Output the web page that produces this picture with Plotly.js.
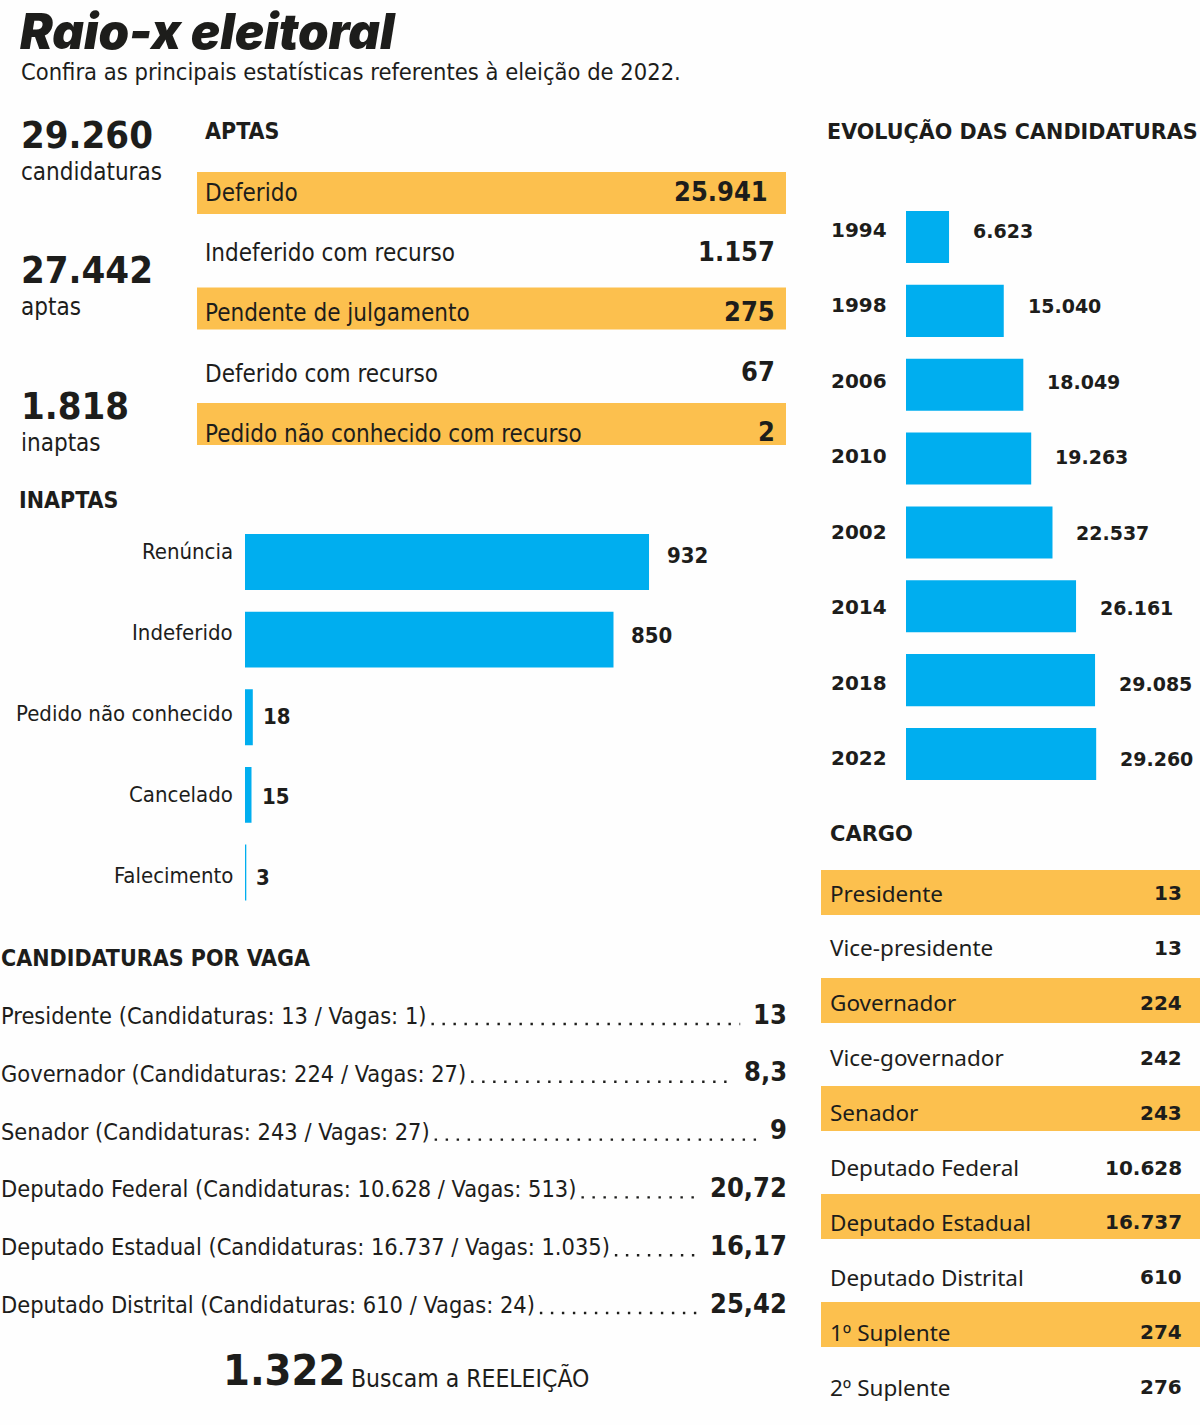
<!DOCTYPE html>
<html><head><meta charset="utf-8"><script src="https://cdn.plot.ly/plotly-3.0.1.min.js"></script>
<style>body{margin:0;background:#fefefe}</style></head>
<body>
<div id="g" style="width:1200px;height:1425px"></div>
<script>
// ---------- DATA ----------
const totalCandidaturas = 29260;
const totalAptas = 27442;
const totalInaptas = 1818;
const resumoLabels = ['candidaturas', 'aptas', 'inaptas'];
const resumoValores = [totalCandidaturas, totalAptas, totalInaptas];

const aptasLabels = ['Deferido', 'Indeferido com recurso', 'Pendente de julgamento', 'Deferido com recurso', 'Pedido não conhecido com recurso'];
const aptasValores = [25941, 1157, 275, 67, 2];

const inaptasLabels = ['Renúncia', 'Indeferido', 'Pedido não conhecido', 'Cancelado', 'Falecimento'];
const inaptasValores = [932, 850, 18, 15, 3];

const evolucaoAnos = ['1994', '1998', '2006', '2010', '2002', '2014', '2018', '2022'];
const evolucaoValores = [6623, 15040, 18049, 19263, 22537, 26161, 29085, 29260];

const cargoLabels = ['Presidente', 'Vice-presidente', 'Governador', 'Vice-governador', 'Senador', 'Deputado Federal', 'Deputado Estadual', 'Deputado Distrital', '1º Suplente', '2º Suplente'];
const cargoValores = [13, 13, 224, 242, 243, 10628, 16737, 610, 274, 276];

const vagaCargos = ['Presidente', 'Governador', 'Senador', 'Deputado Federal', 'Deputado Estadual', 'Deputado Distrital'];
const vagaCandidaturas = [13, 224, 243, 10628, 16737, 610];
const vagaVagas = [1, 27, 27, 513, 1035, 24];
const vagaRazao = ['13', '8,3', '9', '20,72', '16,17', '25,42'];

const reeleicao = 1322;

// ---------- STYLE ----------
const W = 1200, H = 1425;
const px = x => x / W, py = y => 1 - y / H;
const COND = 'DejaVu Sans Condensed, DejaVu Sans, sans-serif';
const WIDE = 'DejaVu Sans, sans-serif';
const NOTO = 'Noto Sans, DejaVu Sans, sans-serif';
const INK = '#1d1d1b';
const BLUE = '#00aeef';
const YELLOW = '#fcc04e';
const fmt = n => String(n).replace(/\B(?=(\d{3})+(?!\d))/g, '.');

const ann = [];
const shapes = [];
function T(x, y, text, size, o = {}) {
  ann.push({
    xref: 'paper', yref: 'paper', x: px(x), y: py(y), text: text, showarrow: false,
    xanchor: o.anchor || 'left', yanchor: 'middle', borderpad: 0,
    font: { family: o.family || COND, size: size, color: INK, weight: o.weight || 'normal', style: o.style || 'normal' }
  });
}
const cv = document.createElement('canvas').getContext('2d');
function measure(text, size, weight, family) {
  cv.font = `${weight} ${size}px ${family}`;
  return cv.measureText(text).width;
}

// Title
T(19, 31, 'Raio-x eleitoral', 49, { family: 'Inter, sans-serif', weight: 900, style: 'italic' });
T(20, 72, 'Confira as principais estatísticas referentes à eleição de 2022.', 23.5);

// Resumo
const resumoY = [135, 270, 406];
resumoValores.forEach((v, i) => {
  T(20, resumoY[i], fmt(v), 38, { weight: 'bold' });
  T(20, resumoY[i] + 37, resumoLabels[i], 24);
});

// APTAS table
T(204, 131, 'APTAS', 23, { weight: 'bold' });
aptasLabels.forEach((l, i) => {
  const yc = 193 + i * 60.25;
  if (i % 2 === 0) {
    const top = 172 + i * 57.75;
    shapes.push({ type: 'rect', xref: 'paper', yref: 'paper', x0: px(197), x1: px(786), y0: py(top), y1: py(top + 42), fillcolor: YELLOW, line: { width: 0 }, layer: 'below' });
  }
  T(204, yc, l, 24);
  T(i === 0 ? 769 : 776, yc - 2, fmt(aptasValores[i]), 27, { anchor: 'right', weight: 'bold' });
});

// INAPTAS
T(18, 500, 'INAPTAS', 23, { weight: 'bold' });
inaptasLabels.forEach((l, i) => {
  ann.push({ xref: 'paper', yref: 'y', x: px(235), y: i, yshift: 11 - 3.4 * i, text: l, showarrow: false, xanchor: 'right', yanchor: 'middle', font: { family: COND, size: 22, color: INK } });
  const v = inaptasValores[i];
  ann.push({ xref: 'x', yref: 'y', x: v, y: i, xshift: v > 100 ? 16 : 8, yshift: 7 - 2.9 * i, text: fmt(v), showarrow: false, xanchor: 'left', yanchor: 'middle', font: { family: COND, size: 22, color: INK, weight: 'bold' } });
});

// EVOLUÇÃO
T(826, 131, 'EVOLUÇÃO DAS CANDIDATURAS', 20.7, { family: WIDE, weight: 'bold' });
evolucaoAnos.forEach((a, i) => {
  const ys = 7 - 1.57 * i;
  ann.push({ xref: 'paper', yref: 'y2', x: px(829), y: i, yshift: ys, text: a, showarrow: false, xanchor: 'left', yanchor: 'middle', font: { family: WIDE, size: 20, color: INK, weight: 'bold' } });
  ann.push({ xref: 'x2', yref: 'y2', x: evolucaoValores[i], y: i, xshift: 22, yshift: ys - 1, text: fmt(evolucaoValores[i]), showarrow: false, xanchor: 'left', yanchor: 'middle', font: { family: WIDE, size: 19, color: INK, weight: 'bold' } });
});

// CARGO
T(829, 834, 'CARGO', 21, { family: WIDE, weight: 'bold' });
cargoLabels.forEach((l, i) => {
  const yc = 893 + i * 54.9;
  if (i % 2 === 0) {
    const top = 870 + i * 54;
    shapes.push({ type: 'rect', xref: 'paper', yref: 'paper', x0: px(821), x1: px(1200), y0: py(top), y1: py(top + 45), fillcolor: YELLOW, line: { width: 0 }, layer: 'below' });
  }
  T(829, yc, l, 22.5, { family: NOTO });
  T(1183, yc, fmt(cargoValores[i]), 20, { family: WIDE, weight: 'bold', anchor: 'right' });
});

// CANDIDATURAS POR VAGA
T(0, 958, 'CANDIDATURAS POR VAGA', 23, { weight: 'bold' });
vagaCargos.forEach((c, i) => {
  const yc = 1016 + i * 57.8;
  const label = `${c} (Candidaturas: ${fmt(vagaCandidaturas[i])} / Vagas: ${fmt(vagaVagas[i])})`;
  T(0, yc, label, 23.4);
  T(788, yc - 2, vagaRazao[i], 27, { anchor: 'right', weight: 'bold' });
  const lw = measure(label, 23.4, 'normal', "'DejaVu Sans Condensed'");
  const vw = measure(vagaRazao[i], 27, 'bold', "'DejaVu Sans Condensed'");
  shapes.push({ type: 'line', xref: 'paper', yref: 'paper', x0: px(lw + 6), x1: px(788 - vw - 14), y0: py(yc + 8), y1: py(yc + 8), line: { color: INK, width: 2.4, dash: '2.4px,8.6px' } });
});

// Reeleição
T(222, 1370, fmt(reeleicao), 43, { weight: 'bold' });
const rw = measure(fmt(reeleicao), 43, 'bold', "'DejaVu Sans Condensed'");
T(222 + rw + 6, 1378, 'Buscam a REELEIÇÃO', 24.5);

// ---------- TRACES ----------
const traces = [
  { type: 'bar', orientation: 'h', x: inaptasValores, y: inaptasLabels, xaxis: 'x', yaxis: 'y', width: 0.72, marker: { color: BLUE }, hoverinfo: 'skip' },
  { type: 'bar', orientation: 'h', x: evolucaoValores, y: evolucaoAnos, xaxis: 'x2', yaxis: 'y2', width: 0.705, marker: { color: BLUE }, hoverinfo: 'skip' }
];

const hidden = { visible: false, fixedrange: true, showgrid: false, zeroline: false };
const layout = {
  width: W, height: H, margin: { l: 0, r: 0, t: 0, b: 0 },
  paper_bgcolor: '#fefefe', plot_bgcolor: 'rgba(0,0,0,0)', showlegend: false,
  xaxis: Object.assign({ domain: [px(245), px(720)], range: [0, 1095.7], anchor: 'y' }, hidden),
  yaxis: Object.assign({ domain: [py(911.3), py(523.2)], type: 'category', categoryorder: 'array', categoryarray: inaptasLabels, range: [4.5, -0.5], anchor: 'x' }, hidden),
  xaxis2: Object.assign({ domain: [px(906), 1], range: [0, 45231], anchor: 'y2' }, hidden),
  yaxis2: Object.assign({ domain: [py(790.9), py(200.1)], type: 'category', categoryorder: 'array', categoryarray: evolucaoAnos, range: [7.5, -0.5], anchor: 'x2' }, hidden),
  annotations: ann, shapes: shapes
};
Plotly.newPlot('g', traces, layout, { displayModeBar: false, staticPlot: true });
</script></body></html>
